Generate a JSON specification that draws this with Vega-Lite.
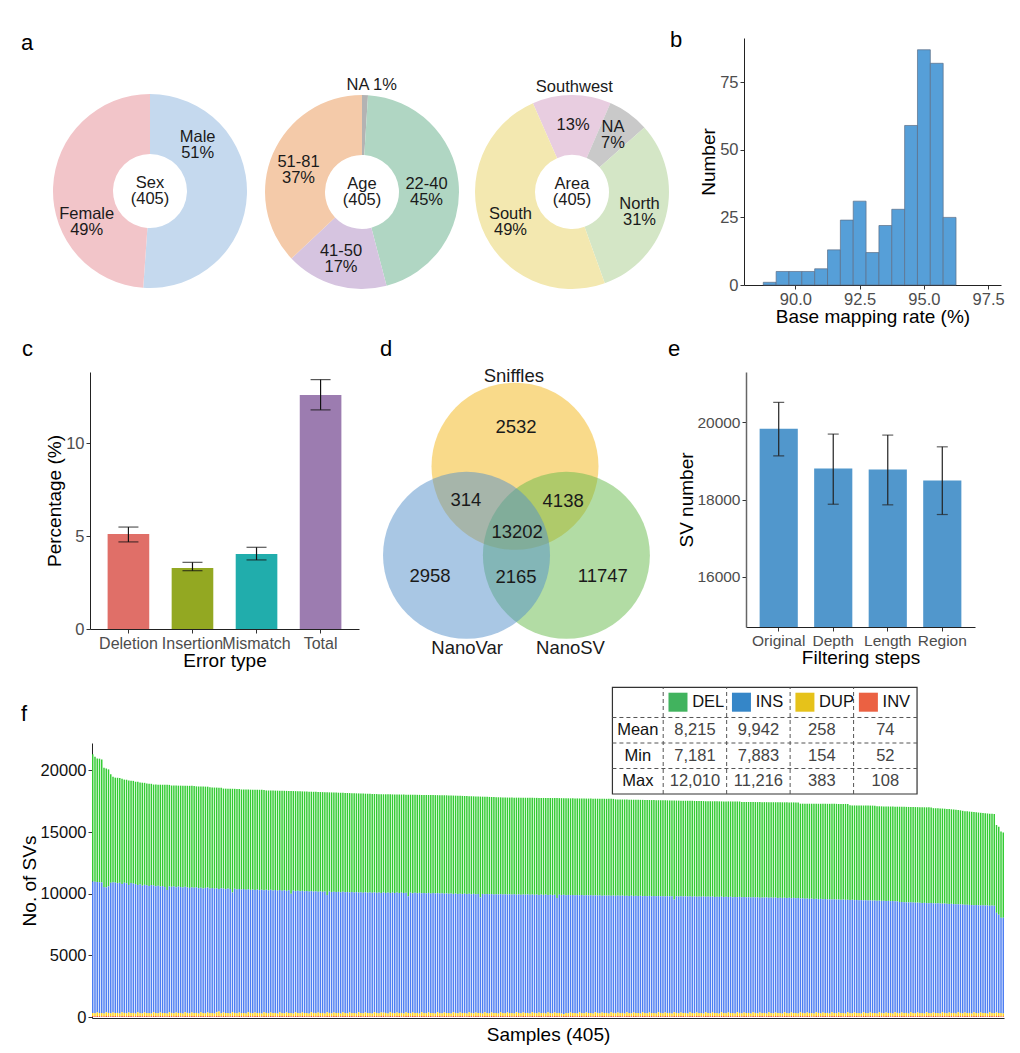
{
"$schema": "https://vega.github.io/schema/vega-lite/v6.json",
"background": "white",
"padding": {"left": 20, "top": 29, "right": 5, "bottom": 5},
"config": {
  "view": {"stroke": null},
  "font": "Liberation Sans",
  "title": {"font": "Liberation Sans", "fontSize": 22, "fontWeight": "normal", "anchor": "start", "frame": "group", "baseline": "alphabetic", "offset": 0, "color": "#000"},
  "axis": {"grid": false, "domainColor": "#222", "domainWidth": 1, "tickColor": "#333", "tickSize": 4, "labelColor": "#4d4d4d", "labelFont": "Liberation Sans", "labelFontSize": 16.5, "labelPadding": 2, "titleFont": "Liberation Sans", "titleFontWeight": "normal", "titleColor": "#000", "titleFontSize": 19, "titlePadding": 1},
  "text": {"font": "Liberation Sans"}
},
"datasets": {
"sv": [
{"s":1,"DEL":10310,"INS":10658,"DUP":258,"INV":74},
{"s":2,"DEL":10140,"INS":10661,"DUP":231,"INV":68},
{"s":3,"DEL":10020,"INS":10585,"DUP":284,"INV":81},
{"s":4,"DEL":10020,"INS":10606,"DUP":247,"INV":77},
{"s":5,"DEL":9990,"INS":10569,"DUP":269,"INV":62},
{"s":6,"DEL":9670,"INS":10267,"DUP":212,"INV":71},
{"s":7,"DEL":9660,"INS":10116,"DUP":296,"INV":88},
{"s":8,"DEL":9480,"INS":10268,"DUP":258,"INV":74},
{"s":9,"DEL":8800,"INS":10581,"DUP":231,"INV":68},
{"s":10,"DEL":8570,"INS":10555,"DUP":284,"INV":81},
{"s":11,"DEL":8510,"INS":10576,"DUP":247,"INV":77},
{"s":12,"DEL":8540,"INS":10529,"DUP":269,"INV":62},
{"s":13,"DEL":8510,"INS":10597,"DUP":212,"INV":71},
{"s":14,"DEL":8550,"INS":10396,"DUP":296,"INV":88},
{"s":15,"DEL":8360,"INS":10558,"DUP":258,"INV":74},
{"s":16,"DEL":8390,"INS":10551,"DUP":231,"INV":68},
{"s":17,"DEL":8470,"INS":10335,"DUP":284,"INV":81},
{"s":18,"DEL":8300,"INS":10536,"DUP":247,"INV":77},
{"s":19,"DEL":8330,"INS":10489,"DUP":269,"INV":62},
{"s":20,"DEL":8300,"INS":10497,"DUP":212,"INV":71},
{"s":21,"DEL":8370,"INS":10316,"DUP":296,"INV":88},
{"s":22,"DEL":8250,"INS":10428,"DUP":258,"INV":74},
{"s":23,"DEL":8350,"INS":10351,"DUP":231,"INV":68},
{"s":24,"DEL":8270,"INS":10355,"DUP":284,"INV":81},
{"s":25,"DEL":8250,"INS":10356,"DUP":247,"INV":77},
{"s":26,"DEL":8300,"INS":10289,"DUP":269,"INV":62},
{"s":27,"DEL":8210,"INS":10417,"DUP":212,"INV":71},
{"s":28,"DEL":8190,"INS":10276,"DUP":296,"INV":88},
{"s":29,"DEL":8246,"INS":10268,"DUP":258,"INV":74},
{"s":30,"DEL":8202,"INS":10341,"DUP":231,"INV":68},
{"s":31,"DEL":8259,"INS":10215,"DUP":284,"INV":81},
{"s":32,"DEL":8215,"INS":10296,"DUP":247,"INV":77},
{"s":33,"DEL":8281,"INS":10219,"DUP":269,"INV":62},
{"s":34,"DEL":8527,"INS":10017,"DUP":212,"INV":71},
{"s":35,"DEL":8232,"INS":10206,"DUP":296,"INV":88},
{"s":36,"DEL":8212,"INS":10228,"DUP":258,"INV":74},
{"s":37,"DEL":8168,"INS":10301,"DUP":231,"INV":68},
{"s":38,"DEL":8245,"INS":10155,"DUP":284,"INV":81},
{"s":39,"DEL":8182,"INS":10256,"DUP":247,"INV":77},
{"s":40,"DEL":8220,"INS":10209,"DUP":269,"INV":62},
{"s":41,"DEL":8257,"INS":10217,"DUP":212,"INV":71},
{"s":42,"DEL":8194,"INS":10176,"DUP":296,"INV":88},
{"s":43,"DEL":8241,"INS":10178,"DUP":258,"INV":74},
{"s":44,"DEL":8277,"INS":10171,"DUP":231,"INV":68},
{"s":45,"DEL":8214,"INS":10165,"DUP":284,"INV":81},
{"s":46,"DEL":8260,"INS":10156,"DUP":247,"INV":77},
{"s":47,"DEL":8183,"INS":10189,"DUP":269,"INV":62},
{"s":48,"DEL":8244,"INS":10167,"DUP":212,"INV":71},
{"s":49,"DEL":8200,"INS":10106,"DUP":296,"INV":88},
{"s":50,"DEL":8257,"INS":10098,"DUP":258,"INV":74},
{"s":51,"DEL":8213,"INS":10171,"DUP":231,"INV":68},
{"s":52,"DEL":8179,"INS":10135,"DUP":284,"INV":81},
{"s":53,"DEL":8221,"INS":10096,"DUP":247,"INV":77},
{"s":54,"DEL":8152,"INS":10129,"DUP":269,"INV":62},
{"s":55,"DEL":8207,"INS":10117,"DUP":212,"INV":71},
{"s":56,"DEL":8163,"INS":10056,"DUP":296,"INV":88},
{"s":57,"DEL":8219,"INS":9923,"DUP":383,"INV":74},
{"s":58,"DEL":8142,"INS":10151,"DUP":231,"INV":68},
{"s":59,"DEL":8114,"INS":10045,"DUP":284,"INV":81},
{"s":60,"DEL":8149,"INS":10046,"DUP":247,"INV":77},
{"s":61,"DEL":8095,"INS":10089,"DUP":269,"INV":62},
{"s":62,"DEL":8122,"INS":10107,"DUP":212,"INV":71},
{"s":63,"DEL":8408,"INS":9716,"DUP":296,"INV":88},
{"s":64,"DEL":8103,"INS":10068,"DUP":258,"INV":74},
{"s":65,"DEL":8148,"INS":10051,"DUP":231,"INV":68},
{"s":66,"DEL":8113,"INS":10015,"DUP":284,"INV":81},
{"s":67,"DEL":8112,"INS":10016,"DUP":247,"INV":77},
{"s":68,"DEL":8057,"INS":10059,"DUP":269,"INV":62},
{"s":69,"DEL":8113,"INS":10047,"DUP":212,"INV":71},
{"s":70,"DEL":8080,"INS":9976,"DUP":296,"INV":88},
{"s":71,"DEL":8127,"INS":9978,"DUP":258,"INV":74},
{"s":72,"DEL":8084,"INS":10051,"DUP":231,"INV":68},
{"s":73,"DEL":8131,"INS":9935,"DUP":284,"INV":81},
{"s":74,"DEL":8088,"INS":10016,"DUP":247,"INV":77},
{"s":75,"DEL":8135,"INS":9959,"DUP":269,"INV":62},
{"s":76,"DEL":8091,"INS":10047,"DUP":212,"INV":71},
{"s":77,"DEL":8138,"INS":9896,"DUP":296,"INV":88},
{"s":78,"DEL":8052,"INS":9988,"DUP":258,"INV":74},
{"s":79,"DEL":8098,"INS":9971,"DUP":231,"INV":68},
{"s":80,"DEL":8054,"INS":9945,"DUP":284,"INV":81},
{"s":81,"DEL":8101,"INS":9936,"DUP":247,"INV":77},
{"s":82,"DEL":8058,"INS":9969,"DUP":269,"INV":62},
{"s":83,"DEL":8105,"INS":9967,"DUP":212,"INV":71},
{"s":84,"DEL":8062,"INS":9906,"DUP":296,"INV":88},
{"s":85,"DEL":8109,"INS":9908,"DUP":258,"INV":74},
{"s":86,"DEL":8066,"INS":9981,"DUP":231,"INV":68},
{"s":87,"DEL":8110,"INS":9865,"DUP":284,"INV":81},
{"s":88,"DEL":8064,"INS":9946,"DUP":247,"INV":77},
{"s":89,"DEL":8329,"INS":9669,"DUP":269,"INV":62},
{"s":90,"DEL":8072,"INS":9967,"DUP":212,"INV":71},
{"s":91,"DEL":8106,"INS":9826,"DUP":296,"INV":88},
{"s":92,"DEL":8069,"INS":9908,"DUP":258,"INV":74},
{"s":93,"DEL":8102,"INS":9901,"DUP":231,"INV":68},
{"s":94,"DEL":8066,"INS":9865,"DUP":284,"INV":81},
{"s":95,"DEL":8099,"INS":9866,"DUP":247,"INV":77},
{"s":96,"DEL":8063,"INS":9889,"DUP":269,"INV":62},
{"s":97,"DEL":8096,"INS":9897,"DUP":212,"INV":71},
{"s":98,"DEL":8060,"INS":9826,"DUP":296,"INV":88},
{"s":99,"DEL":8093,"INS":9838,"DUP":258,"INV":74},
{"s":100,"DEL":8057,"INS":9901,"DUP":231,"INV":68},
{"s":101,"DEL":8090,"INS":9795,"DUP":284,"INV":81},
{"s":102,"DEL":8053,"INS":9866,"DUP":247,"INV":77},
{"s":103,"DEL":8087,"INS":9819,"DUP":269,"INV":62},
{"s":104,"DEL":8050,"INS":9897,"DUP":212,"INV":71},
{"s":105,"DEL":8324,"INS":9516,"DUP":296,"INV":88},
{"s":106,"DEL":8047,"INS":9838,"DUP":258,"INV":74},
{"s":107,"DEL":8071,"INS":9841,"DUP":231,"INV":68},
{"s":108,"DEL":8044,"INS":9795,"DUP":284,"INV":81},
{"s":109,"DEL":8067,"INS":9806,"DUP":247,"INV":77},
{"s":110,"DEL":8041,"INS":9819,"DUP":269,"INV":62},
{"s":111,"DEL":8064,"INS":9837,"DUP":212,"INV":71},
{"s":112,"DEL":8028,"INS":9766,"DUP":296,"INV":88},
{"s":113,"DEL":8061,"INS":9778,"DUP":258,"INV":74},
{"s":114,"DEL":8025,"INS":9841,"DUP":231,"INV":68},
{"s":115,"DEL":8058,"INS":9735,"DUP":284,"INV":81},
{"s":116,"DEL":8021,"INS":9806,"DUP":247,"INV":77},
{"s":117,"DEL":8055,"INS":9759,"DUP":269,"INV":62},
{"s":118,"DEL":8008,"INS":9847,"DUP":212,"INV":71},
{"s":119,"DEL":8042,"INS":9706,"DUP":296,"INV":88},
{"s":120,"DEL":8005,"INS":9788,"DUP":258,"INV":74},
{"s":121,"DEL":8039,"INS":9781,"DUP":231,"INV":68},
{"s":122,"DEL":7992,"INS":9755,"DUP":284,"INV":81},
{"s":123,"DEL":8025,"INS":9756,"DUP":247,"INV":77},
{"s":124,"DEL":7989,"INS":9779,"DUP":269,"INV":62},
{"s":125,"DEL":8022,"INS":9787,"DUP":212,"INV":71},
{"s":126,"DEL":7976,"INS":9726,"DUP":296,"INV":88},
{"s":127,"DEL":8009,"INS":9738,"DUP":258,"INV":74},
{"s":128,"DEL":7973,"INS":9801,"DUP":231,"INV":68},
{"s":129,"DEL":8006,"INS":9695,"DUP":284,"INV":81},
{"s":130,"DEL":7963,"INS":9745,"DUP":247,"INV":108},
{"s":131,"DEL":8000,"INS":9729,"DUP":269,"INV":62},
{"s":132,"DEL":7967,"INS":9807,"DUP":212,"INV":71},
{"s":133,"DEL":7994,"INS":9676,"DUP":296,"INV":88},
{"s":134,"DEL":7961,"INS":9758,"DUP":258,"INV":74},
{"s":135,"DEL":7998,"INS":9751,"DUP":231,"INV":68},
{"s":136,"DEL":7955,"INS":9725,"DUP":284,"INV":81},
{"s":137,"DEL":7992,"INS":9726,"DUP":247,"INV":77},
{"s":138,"DEL":7959,"INS":9749,"DUP":269,"INV":62},
{"s":139,"DEL":7986,"INS":9767,"DUP":212,"INV":71},
{"s":140,"DEL":7953,"INS":9696,"DUP":296,"INV":88},
{"s":141,"DEL":8230,"INS":9468,"DUP":258,"INV":74},
{"s":142,"DEL":7947,"INS":9781,"DUP":231,"INV":68},
{"s":143,"DEL":7984,"INS":9675,"DUP":284,"INV":81},
{"s":144,"DEL":7951,"INS":9746,"DUP":247,"INV":77},
{"s":145,"DEL":7978,"INS":9709,"DUP":269,"INV":62},
{"s":146,"DEL":7945,"INS":9787,"DUP":212,"INV":71},
{"s":147,"DEL":7982,"INS":9646,"DUP":296,"INV":88},
{"s":148,"DEL":7949,"INS":9728,"DUP":258,"INV":74},
{"s":149,"DEL":7976,"INS":9731,"DUP":231,"INV":68},
{"s":150,"DEL":7943,"INS":9695,"DUP":284,"INV":81},
{"s":151,"DEL":7980,"INS":9696,"DUP":247,"INV":77},
{"s":152,"DEL":7947,"INS":9719,"DUP":269,"INV":62},
{"s":153,"DEL":7974,"INS":9737,"DUP":212,"INV":71},
{"s":154,"DEL":7941,"INS":9666,"DUP":296,"INV":88},
{"s":155,"DEL":7978,"INS":9678,"DUP":258,"INV":74},
{"s":156,"DEL":7945,"INS":9741,"DUP":231,"INV":68},
{"s":157,"DEL":7982,"INS":9635,"DUP":284,"INV":81},
{"s":158,"DEL":7949,"INS":9706,"DUP":247,"INV":77},
{"s":159,"DEL":7982,"INS":9659,"DUP":269,"INV":62},
{"s":160,"DEL":7955,"INS":9727,"DUP":212,"INV":71},
{"s":161,"DEL":7978,"INS":9596,"DUP":296,"INV":88},
{"s":162,"DEL":7941,"INS":9678,"DUP":258,"INV":74},
{"s":163,"DEL":7964,"INS":9681,"DUP":231,"INV":68},
{"s":164,"DEL":7937,"INS":9635,"DUP":284,"INV":81},
{"s":165,"DEL":7960,"INS":9646,"DUP":247,"INV":77},
{"s":166,"DEL":7923,"INS":9669,"DUP":269,"INV":62},
{"s":167,"DEL":7946,"INS":9687,"DUP":212,"INV":71},
{"s":168,"DEL":7919,"INS":9606,"DUP":296,"INV":88},
{"s":169,"DEL":7942,"INS":9628,"DUP":258,"INV":74},
{"s":170,"DEL":7906,"INS":9691,"DUP":231,"INV":68},
{"s":171,"DEL":7929,"INS":9595,"DUP":284,"INV":81},
{"s":172,"DEL":7902,"INS":9656,"DUP":247,"INV":77},
{"s":173,"DEL":8175,"INS":9369,"DUP":269,"INV":62},
{"s":174,"DEL":7888,"INS":9697,"DUP":212,"INV":71},
{"s":175,"DEL":7911,"INS":9566,"DUP":296,"INV":88},
{"s":176,"DEL":7884,"INS":9638,"DUP":258,"INV":74},
{"s":177,"DEL":7897,"INS":9651,"DUP":231,"INV":68},
{"s":178,"DEL":7870,"INS":9605,"DUP":284,"INV":81},
{"s":179,"DEL":7893,"INS":9616,"DUP":247,"INV":77},
{"s":180,"DEL":7866,"INS":9629,"DUP":269,"INV":62},
{"s":181,"DEL":7879,"INS":9657,"DUP":212,"INV":71},
{"s":182,"DEL":7852,"INS":9576,"DUP":296,"INV":88},
{"s":183,"DEL":7876,"INS":9598,"DUP":258,"INV":74},
{"s":184,"DEL":7840,"INS":9661,"DUP":231,"INV":68},
{"s":185,"DEL":7866,"INS":9565,"DUP":284,"INV":81},
{"s":186,"DEL":7844,"INS":9626,"DUP":247,"INV":77},
{"s":187,"DEL":7862,"INS":9599,"DUP":269,"INV":62},
{"s":188,"DEL":7840,"INS":9667,"DUP":212,"INV":71},
{"s":189,"DEL":7868,"INS":9536,"DUP":296,"INV":88},
{"s":190,"DEL":7836,"INS":9618,"DUP":258,"INV":74},
{"s":191,"DEL":7864,"INS":9621,"DUP":231,"INV":68},
{"s":192,"DEL":7842,"INS":9575,"DUP":284,"INV":81},
{"s":193,"DEL":7860,"INS":9596,"DUP":247,"INV":77},
{"s":194,"DEL":7838,"INS":9609,"DUP":269,"INV":62},
{"s":195,"DEL":7866,"INS":9627,"DUP":212,"INV":71},
{"s":196,"DEL":7834,"INS":9556,"DUP":296,"INV":88},
{"s":197,"DEL":7862,"INS":9578,"DUP":258,"INV":74},
{"s":198,"DEL":7840,"INS":9631,"DUP":231,"INV":68},
{"s":199,"DEL":7868,"INS":9535,"DUP":284,"INV":81},
{"s":200,"DEL":7836,"INS":9606,"DUP":247,"INV":77},
{"s":201,"DEL":7864,"INS":9569,"DUP":269,"INV":62},
{"s":202,"DEL":7832,"INS":9647,"DUP":212,"INV":71},
{"s":203,"DEL":7860,"INS":9516,"DUP":296,"INV":88},
{"s":204,"DEL":7838,"INS":9588,"DUP":258,"INV":74},
{"s":205,"DEL":7866,"INS":9591,"DUP":231,"INV":68},
{"s":206,"DEL":7834,"INS":9555,"DUP":284,"INV":81},
{"s":207,"DEL":8102,"INS":9326,"DUP":247,"INV":77},
{"s":208,"DEL":7840,"INS":9579,"DUP":269,"INV":62},
{"s":209,"DEL":7858,"INS":9607,"DUP":212,"INV":71},
{"s":210,"DEL":7836,"INS":9668,"DUP":154,"INV":88},
{"s":211,"DEL":7858,"INS":9548,"DUP":258,"INV":74},
{"s":212,"DEL":7835,"INS":9601,"DUP":231,"INV":68},
{"s":213,"DEL":7853,"INS":9515,"DUP":284,"INV":81},
{"s":214,"DEL":7830,"INS":9576,"DUP":247,"INV":77},
{"s":215,"DEL":7858,"INS":9539,"DUP":269,"INV":62},
{"s":216,"DEL":7836,"INS":9607,"DUP":212,"INV":71},
{"s":217,"DEL":7853,"INS":9486,"DUP":296,"INV":88},
{"s":218,"DEL":7831,"INS":9558,"DUP":258,"INV":74},
{"s":219,"DEL":7858,"INS":9561,"DUP":231,"INV":68},
{"s":220,"DEL":7836,"INS":9515,"DUP":284,"INV":81},
{"s":221,"DEL":7854,"INS":9536,"DUP":247,"INV":77},
{"s":222,"DEL":7831,"INS":9549,"DUP":269,"INV":62},
{"s":223,"DEL":7859,"INS":9567,"DUP":212,"INV":71},
{"s":224,"DEL":7836,"INS":9486,"DUP":296,"INV":88},
{"s":225,"DEL":7854,"INS":9518,"DUP":258,"INV":74},
{"s":226,"DEL":7832,"INS":9571,"DUP":231,"INV":68},
{"s":227,"DEL":7859,"INS":9475,"DUP":284,"INV":81},
{"s":228,"DEL":7837,"INS":9536,"DUP":247,"INV":77},
{"s":229,"DEL":7854,"INS":9509,"DUP":269,"INV":62},
{"s":230,"DEL":7832,"INS":9577,"DUP":212,"INV":71},
{"s":231,"DEL":7860,"INS":9446,"DUP":296,"INV":88},
{"s":232,"DEL":7837,"INS":9518,"DUP":258,"INV":74},
{"s":233,"DEL":7820,"INS":9531,"DUP":231,"INV":68},
{"s":234,"DEL":7796,"INS":9485,"DUP":284,"INV":81},
{"s":235,"DEL":7813,"INS":9506,"DUP":247,"INV":77},
{"s":236,"DEL":7789,"INS":9519,"DUP":269,"INV":62},
{"s":237,"DEL":7816,"INS":9537,"DUP":212,"INV":71},
{"s":238,"DEL":7792,"INS":9456,"DUP":296,"INV":88},
{"s":239,"DEL":7808,"INS":9488,"DUP":258,"INV":74},
{"s":240,"DEL":7785,"INS":9541,"DUP":231,"INV":68},
{"s":241,"DEL":7811,"INS":9445,"DUP":284,"INV":81},
{"s":242,"DEL":7788,"INS":9506,"DUP":247,"INV":77},
{"s":243,"DEL":7804,"INS":9479,"DUP":269,"INV":62},
{"s":244,"DEL":7780,"INS":9547,"DUP":212,"INV":71},
{"s":245,"DEL":7807,"INS":9416,"DUP":296,"INV":88},
{"s":246,"DEL":7783,"INS":9488,"DUP":258,"INV":74},
{"s":247,"DEL":7800,"INS":9501,"DUP":231,"INV":68},
{"s":248,"DEL":7776,"INS":9455,"DUP":284,"INV":81},
{"s":249,"DEL":7802,"INS":9466,"DUP":247,"INV":77},
{"s":250,"DEL":7779,"INS":9479,"DUP":269,"INV":62},
{"s":251,"DEL":7795,"INS":9507,"DUP":212,"INV":71},
{"s":252,"DEL":7772,"INS":9426,"DUP":296,"INV":88},
{"s":253,"DEL":7788,"INS":9458,"DUP":258,"INV":74},
{"s":254,"DEL":7774,"INS":9501,"DUP":231,"INV":68},
{"s":255,"DEL":7791,"INS":9415,"DUP":284,"INV":81},
{"s":256,"DEL":7767,"INS":9476,"DUP":247,"INV":77},
{"s":257,"DEL":7784,"INS":9449,"DUP":269,"INV":62},
{"s":258,"DEL":7760,"INS":9517,"DUP":212,"INV":71},
{"s":259,"DEL":8026,"INS":9146,"DUP":296,"INV":88},
{"s":260,"DEL":7763,"INS":9458,"DUP":258,"INV":74},
{"s":261,"DEL":7779,"INS":9471,"DUP":231,"INV":68},
{"s":262,"DEL":7756,"INS":9425,"DUP":284,"INV":81},
{"s":263,"DEL":7772,"INS":9446,"DUP":247,"INV":77},
{"s":264,"DEL":7748,"INS":9459,"DUP":269,"INV":62},
{"s":265,"DEL":7765,"INS":9487,"DUP":212,"INV":71},
{"s":266,"DEL":7741,"INS":9406,"DUP":296,"INV":88},
{"s":267,"DEL":7768,"INS":9428,"DUP":258,"INV":74},
{"s":268,"DEL":7744,"INS":9481,"DUP":231,"INV":68},
{"s":269,"DEL":7760,"INS":9395,"DUP":284,"INV":81},
{"s":270,"DEL":7737,"INS":9456,"DUP":247,"INV":77},
{"s":271,"DEL":7753,"INS":9429,"DUP":269,"INV":62},
{"s":272,"DEL":7730,"INS":9497,"DUP":212,"INV":71},
{"s":273,"DEL":7756,"INS":9366,"DUP":296,"INV":88},
{"s":274,"DEL":7732,"INS":9438,"DUP":258,"INV":74},
{"s":275,"DEL":7749,"INS":9451,"DUP":231,"INV":68},
{"s":276,"DEL":7725,"INS":9405,"DUP":284,"INV":81},
{"s":277,"DEL":7752,"INS":9416,"DUP":247,"INV":77},
{"s":278,"DEL":7729,"INS":9429,"DUP":269,"INV":62},
{"s":279,"DEL":7748,"INS":9457,"DUP":212,"INV":71},
{"s":280,"DEL":7727,"INS":9376,"DUP":296,"INV":88},
{"s":281,"DEL":7756,"INS":9398,"DUP":258,"INV":74},
{"s":282,"DEL":7735,"INS":9451,"DUP":231,"INV":68},
{"s":283,"DEL":7754,"INS":9365,"DUP":284,"INV":81},
{"s":284,"DEL":7732,"INS":9426,"DUP":247,"INV":77},
{"s":285,"DEL":7761,"INS":9389,"DUP":269,"INV":62},
{"s":286,"DEL":7740,"INS":9457,"DUP":212,"INV":71},
{"s":287,"DEL":7758,"INS":9336,"DUP":296,"INV":88},
{"s":288,"DEL":7736,"INS":9408,"DUP":258,"INV":74},
{"s":289,"DEL":7730,"INS":9411,"DUP":231,"INV":68},
{"s":290,"DEL":7708,"INS":9365,"DUP":284,"INV":81},
{"s":291,"DEL":7736,"INS":9376,"DUP":247,"INV":77},
{"s":292,"DEL":7715,"INS":9389,"DUP":269,"INV":62},
{"s":293,"DEL":7733,"INS":9417,"DUP":212,"INV":71},
{"s":294,"DEL":7722,"INS":9326,"DUP":296,"INV":88},
{"s":295,"DEL":7740,"INS":9358,"DUP":258,"INV":74},
{"s":296,"DEL":7718,"INS":9411,"DUP":231,"INV":68},
{"s":297,"DEL":7747,"INS":9315,"DUP":284,"INV":81},
{"s":298,"DEL":7725,"INS":9376,"DUP":247,"INV":77},
{"s":299,"DEL":7743,"INS":9349,"DUP":269,"INV":62},
{"s":300,"DEL":7722,"INS":9417,"DUP":212,"INV":71},
{"s":301,"DEL":7750,"INS":9286,"DUP":296,"INV":88},
{"s":302,"DEL":7728,"INS":9358,"DUP":258,"INV":74},
{"s":303,"DEL":7747,"INS":9371,"DUP":231,"INV":68},
{"s":304,"DEL":7725,"INS":9325,"DUP":284,"INV":81},
{"s":305,"DEL":7753,"INS":9336,"DUP":247,"INV":77},
{"s":306,"DEL":7732,"INS":9349,"DUP":269,"INV":62},
{"s":307,"DEL":7750,"INS":9377,"DUP":212,"INV":71},
{"s":308,"DEL":7739,"INS":9286,"DUP":296,"INV":88},
{"s":309,"DEL":7757,"INS":9318,"DUP":258,"INV":74},
{"s":310,"DEL":7735,"INS":9371,"DUP":231,"INV":68},
{"s":311,"DEL":7764,"INS":9275,"DUP":284,"INV":81},
{"s":312,"DEL":7742,"INS":9336,"DUP":247,"INV":77},
{"s":313,"DEL":7760,"INS":9309,"DUP":269,"INV":62},
{"s":314,"DEL":7748,"INS":9367,"DUP":212,"INV":71},
{"s":315,"DEL":7690,"INS":9226,"DUP":296,"INV":88},
{"s":316,"DEL":7669,"INS":9298,"DUP":258,"INV":74},
{"s":317,"DEL":7698,"INS":9301,"DUP":231,"INV":68},
{"s":318,"DEL":7687,"INS":9245,"DUP":284,"INV":81},
{"s":319,"DEL":7716,"INS":9256,"DUP":247,"INV":77},
{"s":320,"DEL":7695,"INS":9279,"DUP":269,"INV":52},
{"s":321,"DEL":7724,"INS":9287,"DUP":212,"INV":71},
{"s":322,"DEL":7703,"INS":9206,"DUP":296,"INV":88},
{"s":323,"DEL":7732,"INS":9228,"DUP":258,"INV":74},
{"s":324,"DEL":7711,"INS":9281,"DUP":231,"INV":68},
{"s":325,"DEL":7740,"INS":9185,"DUP":284,"INV":81},
{"s":326,"DEL":7729,"INS":9236,"DUP":247,"INV":77},
{"s":327,"DEL":7748,"INS":9209,"DUP":269,"INV":62},
{"s":328,"DEL":7737,"INS":9267,"DUP":212,"INV":71},
{"s":329,"DEL":7756,"INS":9146,"DUP":296,"INV":88},
{"s":330,"DEL":7745,"INS":9208,"DUP":258,"INV":74},
{"s":331,"DEL":7764,"INS":9221,"DUP":231,"INV":68},
{"s":332,"DEL":7753,"INS":9165,"DUP":284,"INV":81},
{"s":333,"DEL":7772,"INS":9186,"DUP":247,"INV":77},
{"s":334,"DEL":7761,"INS":9189,"DUP":269,"INV":62},
{"s":335,"DEL":7780,"INS":9217,"DUP":212,"INV":71},
{"s":336,"DEL":7769,"INS":9126,"DUP":296,"INV":88},
{"s":337,"DEL":7672,"INS":9158,"DUP":258,"INV":74},
{"s":338,"DEL":7660,"INS":9201,"DUP":231,"INV":68},
{"s":339,"DEL":7678,"INS":9115,"DUP":284,"INV":81},
{"s":340,"DEL":7666,"INS":9166,"DUP":247,"INV":77},
{"s":341,"DEL":7685,"INS":9139,"DUP":269,"INV":62},
{"s":342,"DEL":7673,"INS":9197,"DUP":212,"INV":71},
{"s":343,"DEL":7691,"INS":9076,"DUP":296,"INV":88},
{"s":344,"DEL":7679,"INS":9138,"DUP":258,"INV":74},
{"s":345,"DEL":7697,"INS":9151,"DUP":231,"INV":68},
{"s":346,"DEL":7685,"INS":9095,"DUP":284,"INV":81},
{"s":347,"DEL":7703,"INS":9116,"DUP":247,"INV":77},
{"s":348,"DEL":7691,"INS":9119,"DUP":269,"INV":62},
{"s":349,"DEL":7662,"INS":9147,"DUP":212,"INV":71},
{"s":350,"DEL":7648,"INS":9056,"DUP":296,"INV":88},
{"s":351,"DEL":7664,"INS":9088,"DUP":258,"INV":74},
{"s":352,"DEL":7650,"INS":9131,"DUP":231,"INV":68},
{"s":353,"DEL":7666,"INS":9045,"DUP":284,"INV":81},
{"s":354,"DEL":7652,"INS":9096,"DUP":247,"INV":77},
{"s":355,"DEL":7668,"INS":9069,"DUP":269,"INV":62},
{"s":356,"DEL":7654,"INS":9127,"DUP":212,"INV":71},
{"s":357,"DEL":7670,"INS":9006,"DUP":296,"INV":88},
{"s":358,"DEL":7676,"INS":9048,"DUP":258,"INV":74},
{"s":359,"DEL":7722,"INS":9031,"DUP":231,"INV":68},
{"s":360,"DEL":7728,"INS":8955,"DUP":284,"INV":81},
{"s":361,"DEL":7734,"INS":8986,"DUP":247,"INV":77},
{"s":362,"DEL":7740,"INS":8969,"DUP":269,"INV":62},
{"s":363,"DEL":7746,"INS":9007,"DUP":212,"INV":71},
{"s":364,"DEL":7732,"INS":8916,"DUP":296,"INV":88},
{"s":365,"DEL":7748,"INS":8948,"DUP":258,"INV":74},
{"s":366,"DEL":7754,"INS":8971,"DUP":231,"INV":68},
{"s":367,"DEL":7740,"INS":8915,"DUP":284,"INV":81},
{"s":368,"DEL":7756,"INS":8936,"DUP":247,"INV":77},
{"s":369,"DEL":7762,"INS":8919,"DUP":269,"INV":62},
{"s":370,"DEL":7748,"INS":8977,"DUP":212,"INV":71},
{"s":371,"DEL":7764,"INS":8856,"DUP":296,"INV":88},
{"s":372,"DEL":7770,"INS":8898,"DUP":258,"INV":74},
{"s":373,"DEL":7756,"INS":8941,"DUP":231,"INV":68},
{"s":374,"DEL":7715,"INS":8855,"DUP":284,"INV":81},
{"s":375,"DEL":7720,"INS":8886,"DUP":247,"INV":77},
{"s":376,"DEL":7705,"INS":8889,"DUP":269,"INV":62},
{"s":377,"DEL":7715,"INS":8917,"DUP":212,"INV":71},
{"s":378,"DEL":7715,"INS":8806,"DUP":296,"INV":88},
{"s":379,"DEL":7690,"INS":8868,"DUP":258,"INV":74},
{"s":380,"DEL":7695,"INS":8881,"DUP":231,"INV":68},
{"s":381,"DEL":7690,"INS":8805,"DUP":284,"INV":81},
{"s":382,"DEL":7665,"INS":8856,"DUP":247,"INV":77},
{"s":383,"DEL":7670,"INS":8829,"DUP":269,"INV":62},
{"s":384,"DEL":7665,"INS":8867,"DUP":212,"INV":71},
{"s":385,"DEL":7650,"INS":8756,"DUP":296,"INV":88},
{"s":386,"DEL":7630,"INS":8798,"DUP":258,"INV":74},
{"s":387,"DEL":7600,"INS":8821,"DUP":231,"INV":68},
{"s":388,"DEL":7580,"INS":8745,"DUP":284,"INV":81},
{"s":389,"DEL":7580,"INS":8776,"DUP":247,"INV":77},
{"s":390,"DEL":7570,"INS":8759,"DUP":269,"INV":62},
{"s":391,"DEL":7560,"INS":8797,"DUP":212,"INV":71},
{"s":392,"DEL":7550,"INS":8686,"DUP":296,"INV":88},
{"s":393,"DEL":7520,"INS":8748,"DUP":258,"INV":74},
{"s":394,"DEL":7520,"INS":8761,"DUP":231,"INV":68},
{"s":395,"DEL":7510,"INS":8685,"DUP":284,"INV":81},
{"s":396,"DEL":7480,"INS":8736,"DUP":247,"INV":77},
{"s":397,"DEL":7480,"INS":8709,"DUP":269,"INV":62},
{"s":398,"DEL":7455,"INS":8767,"DUP":212,"INV":71},
{"s":399,"DEL":7460,"INS":8646,"DUP":296,"INV":88},
{"s":400,"DEL":7435,"INS":8708,"DUP":258,"INV":74},
{"s":401,"DEL":7445,"INS":8721,"DUP":231,"INV":68},
{"s":402,"DEL":7120,"INS":8085,"DUP":284,"INV":81},
{"s":403,"DEL":7130,"INS":7976,"DUP":247,"INV":77},
{"s":404,"DEL":7010,"INS":7709,"DUP":269,"INV":62},
{"s":405,"DEL":6930,"INS":7757,"DUP":212,"INV":71}
]
},
"spacing": 0,
"bounds": "flush",
"resolve": {"scale": {"color": "independent", "theta": "independent", "radius": "independent"}},
"vconcat": [
{
"spacing": 0,
"bounds": "flush",
"resolve": {"scale": {"color": "independent", "theta": "independent", "radius": "independent"}},
"hconcat": [
{
  "width": 194, "height": 306,
  "title": {"text": "a", "dx": -32, "dy": 20.5},
  "layer": [
    {"data": {"values": [{"g": "Male", "n": 207, "o": 1}, {"g": "Female", "n": 198, "o": 2}]},
     "mark": {"type": "arc", "innerRadius": 37, "outerRadius": 97},
     "encoding": {"theta": {"field": "n", "type": "quantitative", "stack": true},
                  "color": {"field": "g", "type": "nominal", "scale": {"domain": ["Male", "Female"], "range": ["#C5D9EE", "#F2C5C9"]}, "legend": null},
                  "order": {"field": "o", "type": "quantitative"}}},
    {"data": {"values": [{"t": "Male\n51%", "a": 46, "r": 0.683}, {"t": "Female\n49%", "a": 243.9, "r": 0.727}, {"t": "Sex\n(405)", "a": 0, "r": 0.0}]},
     "mark": {"type": "text", "fontSize": 16.5, "lineHeight": 16, "lineBreak": "\n", "baseline": "middle", "dy": -8, "color": "#1a1a1a"},
     "encoding": {"theta": {"field": "a", "type": "quantitative", "scale": {"domain": [0, 360], "range": [0, 6.2832]}},
                  "radius": {"field": "r", "type": "quantitative", "scale": {"type": "linear", "domain": [0, 1], "range": [0, 97], "zero": true}},
                  "text": {"field": "t", "type": "nominal"}}}
  ],
  "resolve": {"scale": {"theta": "independent"}}
},
{"width": 18, "height": 0, "data": {"values": []}, "mark": "point"},
{
  "width": 194, "height": 308,
  "layer": [
    {"data": {"values": [{"g": "NA", "n": 4, "o": 1}, {"g": "22-40", "n": 182, "o": 2}, {"g": "41-50", "n": 69, "o": 3}, {"g": "51-81", "n": 150, "o": 4}]},
     "mark": {"type": "arc", "innerRadius": 37, "outerRadius": 97},
     "encoding": {"theta": {"field": "n", "type": "quantitative", "stack": true},
                  "color": {"field": "g", "type": "nominal", "scale": {"domain": ["NA", "22-40", "41-50", "51-81"], "range": ["#B3B3B3", "#B0D6C3", "#D6C4E0", "#F4CAA9"]}, "legend": null},
                  "order": {"field": "o", "type": "quantitative"}}},
    {"data": {"values": [{"t": "NA 1%", "a": 5.6, "r": 1.026}, {"t": "22-40\n45%", "a": 89.7, "r": 0.665}, {"t": "41-50\n17%", "a": 197.4, "r": 0.724}, {"t": "51-81\n37%", "a": 289.1, "r": 0.693}, {"t": "Age\n(405)", "a": 0, "r": 0.0}]},
     "mark": {"type": "text", "fontSize": 16.5, "lineHeight": 16, "lineBreak": "\n", "baseline": "middle", "dy": -8, "color": "#1a1a1a"},
     "encoding": {"theta": {"field": "a", "type": "quantitative", "scale": {"domain": [0, 360], "range": [0, 6.2832]}},
                  "radius": {"field": "r", "type": "quantitative", "scale": {"type": "linear", "domain": [0, 1], "range": [0, 97], "zero": true}},
                  "text": {"field": "t", "type": "nominal"}}}
  ],
  "resolve": {"scale": {"theta": "independent"}}
},
{"width": 16, "height": 0, "data": {"values": []}, "mark": "point"},
{
  "width": 194, "height": 308,
  "layer": [
    {"data": {"values": [{"g": "Southwest", "n": 53, "o": 1}, {"g": "NA", "n": 28, "o": 2}, {"g": "North", "n": 126, "o": 3}, {"g": "South", "n": 198, "o": 4}]},
     "mark": {"type": "arc", "innerRadius": 37, "outerRadius": 97},
     "encoding": {"theta": {"field": "n", "type": "quantitative", "stack": true, "scale": {"range": [-0.4145, 5.8687]}},
                  "color": {"field": "g", "type": "nominal", "scale": {"domain": ["Southwest", "NA", "North", "South"], "range": ["#E8CDE0", "#C9C9C9", "#D4E6C6", "#F3E8B0"]}, "legend": null},
                  "order": {"field": "o", "type": "quantitative"}}},
    {"data": {"values": [{"t": "Southwest", "a": 1.4, "r": 1.004}, {"t": "13%", "a": 1.1, "r": 0.608}, {"t": "NA\n7%", "a": 35.7, "r": 0.724}, {"t": "North\n31%", "a": 106.5, "r": 0.726}, {"t": "South\n49%", "a": 243.8, "r": 0.707}, {"t": "Area\n(405)", "a": 0, "r": 0.0}]},
     "mark": {"type": "text", "fontSize": 16.5, "lineHeight": 16, "lineBreak": "\n", "baseline": "middle", "dy": -8, "color": "#1a1a1a"},
     "encoding": {"theta": {"field": "a", "type": "quantitative", "scale": {"domain": [0, 360], "range": [0, 6.2832]}},
                  "radius": {"field": "r", "type": "quantitative", "scale": {"type": "linear", "domain": [0, 1], "range": [0, 97], "zero": true}},
                  "text": {"field": "t", "type": "nominal"}}}
  ],
  "resolve": {"scale": {"theta": "independent"}}
},
{"width": 75, "height": 0, "data": {"values": []}, "mark": "point"},
{
  "width": 257, "height": 247,
  "title": {"text": "b", "dx": -74, "dy": 18},
  "data": {"values": [
    {"lo": 88.75, "hi": 89.25, "n": 1}, {"lo": 89.25, "hi": 89.75, "n": 5}, {"lo": 89.75, "hi": 90.25, "n": 5},
    {"lo": 90.25, "hi": 90.75, "n": 5}, {"lo": 90.75, "hi": 91.25, "n": 6}, {"lo": 91.25, "hi": 91.75, "n": 13},
    {"lo": 91.75, "hi": 92.25, "n": 24}, {"lo": 92.25, "hi": 92.75, "n": 31}, {"lo": 92.75, "hi": 93.25, "n": 12},
    {"lo": 93.25, "hi": 93.75, "n": 22}, {"lo": 93.75, "hi": 94.25, "n": 28}, {"lo": 94.25, "hi": 94.75, "n": 59},
    {"lo": 94.75, "hi": 95.25, "n": 87}, {"lo": 95.25, "hi": 95.75, "n": 82}, {"lo": 95.75, "hi": 96.25, "n": 25}]},
  "mark": {"type": "bar", "fill": "#569FD8", "stroke": "#5B6F86", "strokeWidth": 0.7},
  "encoding": {
    "x": {"field": "lo", "type": "quantitative", "scale": {"domain": [88, 98], "nice": false, "zero": false},
          "axis": {"values": [90, 92.5, 95, 97.5], "format": ".1f", "title": "Base mapping rate (%)", "titlePadding": 0}},
    "x2": {"field": "hi"},
    "y": {"field": "n", "type": "quantitative", "scale": {"domain": [0, 91.35], "nice": false},
          "axis": {"values": [0, 25, 50, 75], "title": "Number", "titlePadding": 1}},
    "y2": {"datum": 0}
  }
}
]
},
{"width": 1, "height": 334, "data": {"values": []}, "mark": "point"},
{
"spacing": 0,
"bounds": "flush",
"resolve": {"scale": {"color": "independent"}},
"hconcat": [
{"width": 37, "height": 0, "data": {"values": []}, "mark": "point"},
{
  "width": 269, "height": 257,
  "title": {"text": "c", "dx": -68, "dy": -7.5},
  "data": {"values": [
    {"type": "Deletion", "pct": 5.12, "lo": 4.69, "hi": 5.49},
    {"type": "Insertion", "pct": 3.29, "lo": 3.14, "hi": 3.59},
    {"type": "Mismatch", "pct": 4.04, "lo": 3.72, "hi": 4.40},
    {"type": "Total", "pct": 12.60, "lo": 11.80, "hi": 13.43}]},
  "encoding": {"x": {"field": "type", "type": "nominal", "sort": null, "scale": {"paddingInner": 0.35, "paddingOuter": 0.275},
                     "axis": {"title": "Error type", "labelAngle": 0, "labelFontSize": 16, "titlePadding": 0}}},
  "layer": [
    {"mark": {"type": "bar"},
     "encoding": {"y": {"field": "pct", "type": "quantitative", "scale": {"domain": [0, 13.84], "nice": false}, "axis": {"values": [0, 5, 10], "title": "Percentage (%)", "titlePadding": 1}},
                  "color": {"field": "type", "type": "nominal", "scale": {"domain": ["Deletion", "Insertion", "Mismatch", "Total"], "range": ["#E06F68", "#93A822", "#21ADAC", "#9C7CB0"]}, "legend": null}}},
    {"mark": {"type": "rule", "color": "#111", "strokeWidth": 1.2},
     "encoding": {"y": {"field": "lo", "type": "quantitative", "title": "Percentage (%)"}, "y2": {"field": "hi"}}},
    {"mark": {"type": "tick", "color": "#111", "size": 20, "thickness": 1.2},
     "encoding": {"y": {"field": "lo", "type": "quantitative", "title": "Percentage (%)"}}},
    {"mark": {"type": "tick", "color": "#111", "size": 20, "thickness": 1.2},
     "encoding": {"y": {"field": "hi", "type": "quantitative", "title": "Percentage (%)"}}}
  ]
},
{"width": 11, "height": 0, "data": {"values": []}, "mark": "point"},
{
  "width": 292, "height": 300,
  "title": {"text": "d", "dx": 10, "dy": -2},
  "layer": [
    {"data": {"values": [{"set": "Sniffles", "cx": -0.012, "cy": 0.707}, {"set": "NanoSV", "cx": 0.604, "cy": -0.359}, {"set": "NanoVar", "cx": -0.593, "cy": -0.359}]},
     "mark": {"type": "point", "shape": "circle", "filled": true, "size": 27889, "opacity": 0.5, "strokeWidth": 0},
     "encoding": {"x": {"field": "cx", "type": "quantitative", "scale": {"domain": [-1.75, 1.75], "nice": false, "zero": false}, "axis": null},
                  "y": {"field": "cy", "type": "quantitative", "scale": {"domain": [-1.757, 1.836], "nice": false, "zero": false}, "axis": null},
                  "color": {"field": "set", "type": "nominal", "scale": {"domain": ["Sniffles", "NanoSV", "NanoVar"], "range": ["#F4B516", "#65B949", "#538FC9"]}, "legend": null}}},
    {"data": {"values": [
        {"t": "Sniffles", "cx": -0.026, "cy": 1.79}, {"t": "NanoVar", "cx": -0.585, "cy": -1.473}, {"t": "NanoSV", "cx": 0.653, "cy": -1.473},
        {"t": "2532", "cx": 0.0, "cy": 1.18}, {"t": "314", "cx": -0.60, "cy": 0.30}, {"t": "4138", "cx": 0.565, "cy": 0.295},
        {"t": "13202", "cx": 0.014, "cy": -0.077}, {"t": "2958", "cx": -1.03, "cy": -0.607}, {"t": "2165", "cx": 0.0, "cy": -0.615},
        {"t": "11747", "cx": 1.04, "cy": -0.607}]},
     "mark": {"type": "text", "fontSize": 18.5, "baseline": "middle", "color": "#1a1a1a"},
     "encoding": {"x": {"field": "cx", "type": "quantitative", "scale": {"domain": [-1.75, 1.75], "nice": false, "zero": false}, "axis": null},
                  "y": {"field": "cy", "type": "quantitative", "scale": {"domain": [-1.757, 1.836], "nice": false, "zero": false}, "axis": null},
                  "text": {"field": "t", "type": "nominal"}}}
  ]
},
{"width": 84, "height": 0, "data": {"values": []}, "mark": "point"},
{
  "width": 229, "height": 255,
  "title": {"text": "e", "dx": -78, "dy": -7.5},
  "data": {"values": [
    {"step": "Original", "sv": 19827, "lo": 19128, "hi": 20510},
    {"step": "Depth", "sv": 18802, "lo": 17878, "hi": 19690},
    {"step": "Length", "sv": 18776, "lo": 17862, "hi": 19664},
    {"step": "Region", "sv": 18492, "lo": 17612, "hi": 19361}]},
  "encoding": {"x": {"field": "step", "type": "nominal", "sort": null, "scale": {"paddingInner": 0.3, "paddingOuter": 0.25},
                     "axis": {"title": "Filtering steps", "labelAngle": 0, "labelFontSize": 15.5, "titlePadding": 0}}},
  "layer": [
    {"mark": {"type": "bar", "color": "#5197CC", "clip": true},
     "encoding": {"y": {"field": "sv", "type": "quantitative", "scale": {"domain": [14706, 21294], "nice": false, "zero": false},
                        "axis": {"values": [16000, 18000, 20000], "format": "d", "title": "SV number", "labelFontSize": 15.5, "titlePadding": 0, "domainColor": "#666", "domainWidth": 1.5}}}},
    {"mark": {"type": "rule", "color": "#222", "strokeWidth": 1.2},
     "encoding": {"y": {"field": "lo", "type": "quantitative", "title": "SV number"}, "y2": {"field": "hi"}}},
    {"mark": {"type": "tick", "color": "#222", "size": 11, "thickness": 1.2},
     "encoding": {"y": {"field": "lo", "type": "quantitative", "title": "SV number"}}},
    {"mark": {"type": "tick", "color": "#222", "size": 11, "thickness": 1.2},
     "encoding": {"y": {"field": "hi", "type": "quantitative", "title": "SV number"}}}
  ]
}
]
},
{"width": 1, "height": 371, "data": {"values": []}, "mark": "point"},
{
"spacing": 0,
"bounds": "flush",
"hconcat": [
{"width": 39, "height": 0, "data": {"values": []}, "mark": "point"},
{
  "width": 912, "height": 275,
  "title": {"text": "f", "dx": -71, "dy": 43},
  "layer": [
    {"data": {"name": "sv"},
     "transform": [
       {"fold": ["DEL", "INS", "DUP", "INV"], "as": ["type", "n"]},
       {"lookup": "type", "from": {"data": {"values": [{"type": "INV", "rank": 0}, {"type": "DUP", "rank": 1}, {"type": "INS", "rank": 2}, {"type": "DEL", "rank": 3}]}, "key": "type", "fields": ["rank"]}}
     ],
     "mark": {"type": "bar"},
     "encoding": {
       "x": {"field": "s", "type": "ordinal", "scale": {"paddingInner": 0.35, "paddingOuter": 0},
             "axis": {"title": "Samples (405)", "labels": false, "ticks": false, "titlePadding": 7}},
       "y": {"field": "n", "type": "quantitative", "stack": "zero", "scale": {"domain": [-80, 22220], "nice": false, "zero": false},
             "axis": {"values": [0, 5000, 10000, 15000, 20000], "format": "d", "title": "No. of SVs", "labelColor": "#111", "titlePadding": 1}},
       "color": {"field": "type", "type": "nominal", "scale": {"domain": ["DEL", "INS", "DUP", "INV"], "range": ["#33CC33", "#4D7EF2", "#FFD21A", "#F4553F"]}, "legend": null},
       "order": {"field": "rank", "type": "quantitative"}
     }},
    {"layer": [
      {"data": {"values": [{"k": "box"}]},
       "mark": {"type": "rect", "fill": "white", "stroke": "#333", "strokeWidth": 1.2},
       "encoding": {"x": {"datum": 0.2, "type": "quantitative", "scale": {"domain": [-8, 6.37], "nice": false, "zero": false}, "axis": null},
                    "x2": {"datum": 5},
                    "y": {"datum": 0, "type": "quantitative", "scale": {"domain": [-8.784, 2.0], "nice": false, "zero": false}, "axis": null},
                    "y2": {"datum": 4.18}}},
      {"data": {"values": [{"col": 1}, {"col": 2}, {"col": 3}, {"col": 4}]},
       "mark": {"type": "rule", "stroke": "#555", "strokeDash": [4, 3], "strokeWidth": 1},
       "encoding": {"x": {"field": "col", "type": "quantitative", "scale": {"domain": [-8, 6.37], "nice": false, "zero": false}, "axis": null},
                    "y": {"datum": 0, "type": "quantitative", "scale": {"domain": [-8.784, 2.0], "nice": false, "zero": false}, "axis": null},
                    "y2": {"datum": 4.18}}},
      {"data": {"values": [{"k": 1}, {"k": 2}, {"k": 3}]},
       "mark": {"type": "rule", "stroke": "#555", "strokeDash": [4, 3], "strokeWidth": 1},
       "encoding": {"y": {"field": "k", "type": "quantitative", "scale": {"domain": [-8.784, 2.0], "nice": false, "zero": false}, "axis": null},
                    "x": {"datum": 0.2, "type": "quantitative", "scale": {"domain": [-8, 6.37], "nice": false, "zero": false}, "axis": null},
                    "x2": {"datum": 5}}},
      {"data": {"values": [{"stat": "Mean", "k": 2}, {"stat": "Min", "k": 1}, {"stat": "Max", "k": 0}]},
       "mark": {"type": "text", "fontSize": 16.5, "yOffset": -12.75, "baseline": "middle", "color": "#111"},
       "encoding": {"x": {"datum": 0.6, "type": "quantitative", "scale": {"domain": [-8, 6.37], "nice": false, "zero": false}, "axis": null},
                    "y": {"field": "k", "type": "quantitative", "scale": {"domain": [-8.784, 2.0], "nice": false, "zero": false}, "axis": null},
                    "text": {"field": "stat", "type": "nominal"}}},
      {"data": {"values": [
          {"type": "DEL", "col": 1, "stat": "Mean", "k": 2, "v": 8215}, {"type": "INS", "col": 2, "stat": "Mean", "k": 2, "v": 9942},
          {"type": "DUP", "col": 3, "stat": "Mean", "k": 2, "v": 258}, {"type": "INV", "col": 4, "stat": "Mean", "k": 2, "v": 74},
          {"type": "DEL", "col": 1, "stat": "Min", "k": 1, "v": 7181}, {"type": "INS", "col": 2, "stat": "Min", "k": 1, "v": 7883},
          {"type": "DUP", "col": 3, "stat": "Min", "k": 1, "v": 154}, {"type": "INV", "col": 4, "stat": "Min", "k": 1, "v": 52},
          {"type": "DEL", "col": 1, "stat": "Max", "k": 0, "v": 12010}, {"type": "INS", "col": 2, "stat": "Max", "k": 0, "v": 11216},
          {"type": "DUP", "col": 3, "stat": "Max", "k": 0, "v": 383}, {"type": "INV", "col": 4, "stat": "Max", "k": 0, "v": 108}]},
       "mark": {"type": "text", "fontSize": 16.5, "xOffset": 31.75, "yOffset": -12.75, "baseline": "middle", "color": "#444"},
       "encoding": {"x": {"field": "col", "type": "quantitative", "scale": {"domain": [-8, 6.37], "nice": false, "zero": false}, "axis": null},
                    "y": {"field": "k", "type": "quantitative", "scale": {"domain": [-8.784, 2.0], "nice": false, "zero": false}, "axis": null},
                    "text": {"field": "v", "type": "quantitative", "format": ","}}},
      {"data": {"values": [{"type": "DEL", "col": 1}, {"type": "INS", "col": 2}, {"type": "DUP", "col": 3}, {"type": "INV", "col": 4}]},
       "mark": {"type": "point", "shape": "square", "filled": true, "size": 361, "opacity": 1, "strokeWidth": 0, "xOffset": 14.8, "yOffset": -15.3},
       "encoding": {"x": {"field": "col", "type": "quantitative", "scale": {"domain": [-8, 6.37], "nice": false, "zero": false}, "axis": null},
                    "y": {"datum": 3, "type": "quantitative", "scale": {"domain": [-8.784, 2.0], "nice": false, "zero": false}, "axis": null},
                    "color": {"field": "type", "type": "nominal", "scale": {"domain": ["DEL", "INS", "DUP", "INV"], "range": ["#41B35E", "#3586C8", "#E6C21A", "#EB6142"]}, "legend": null}}},
      {"data": {"values": [{"type": "DEL", "col": 1}, {"type": "INS", "col": 2}, {"type": "DUP", "col": 3}, {"type": "INV", "col": 4}]},
       "mark": {"type": "text", "fontSize": 16.5, "align": "left", "baseline": "middle", "xOffset": 29, "yOffset": -15.3, "color": "#111"},
       "encoding": {"x": {"field": "col", "type": "quantitative", "scale": {"domain": [-8, 6.37], "nice": false, "zero": false}, "axis": null},
                    "y": {"datum": 3, "type": "quantitative", "scale": {"domain": [-8.784, 2.0], "nice": false, "zero": false}, "axis": null},
                    "text": {"field": "type", "type": "nominal"}}}
    ]}
  ],
  "resolve": {"scale": {"x": "independent", "y": "independent", "color": "independent"}}
}
]
}
]
}
